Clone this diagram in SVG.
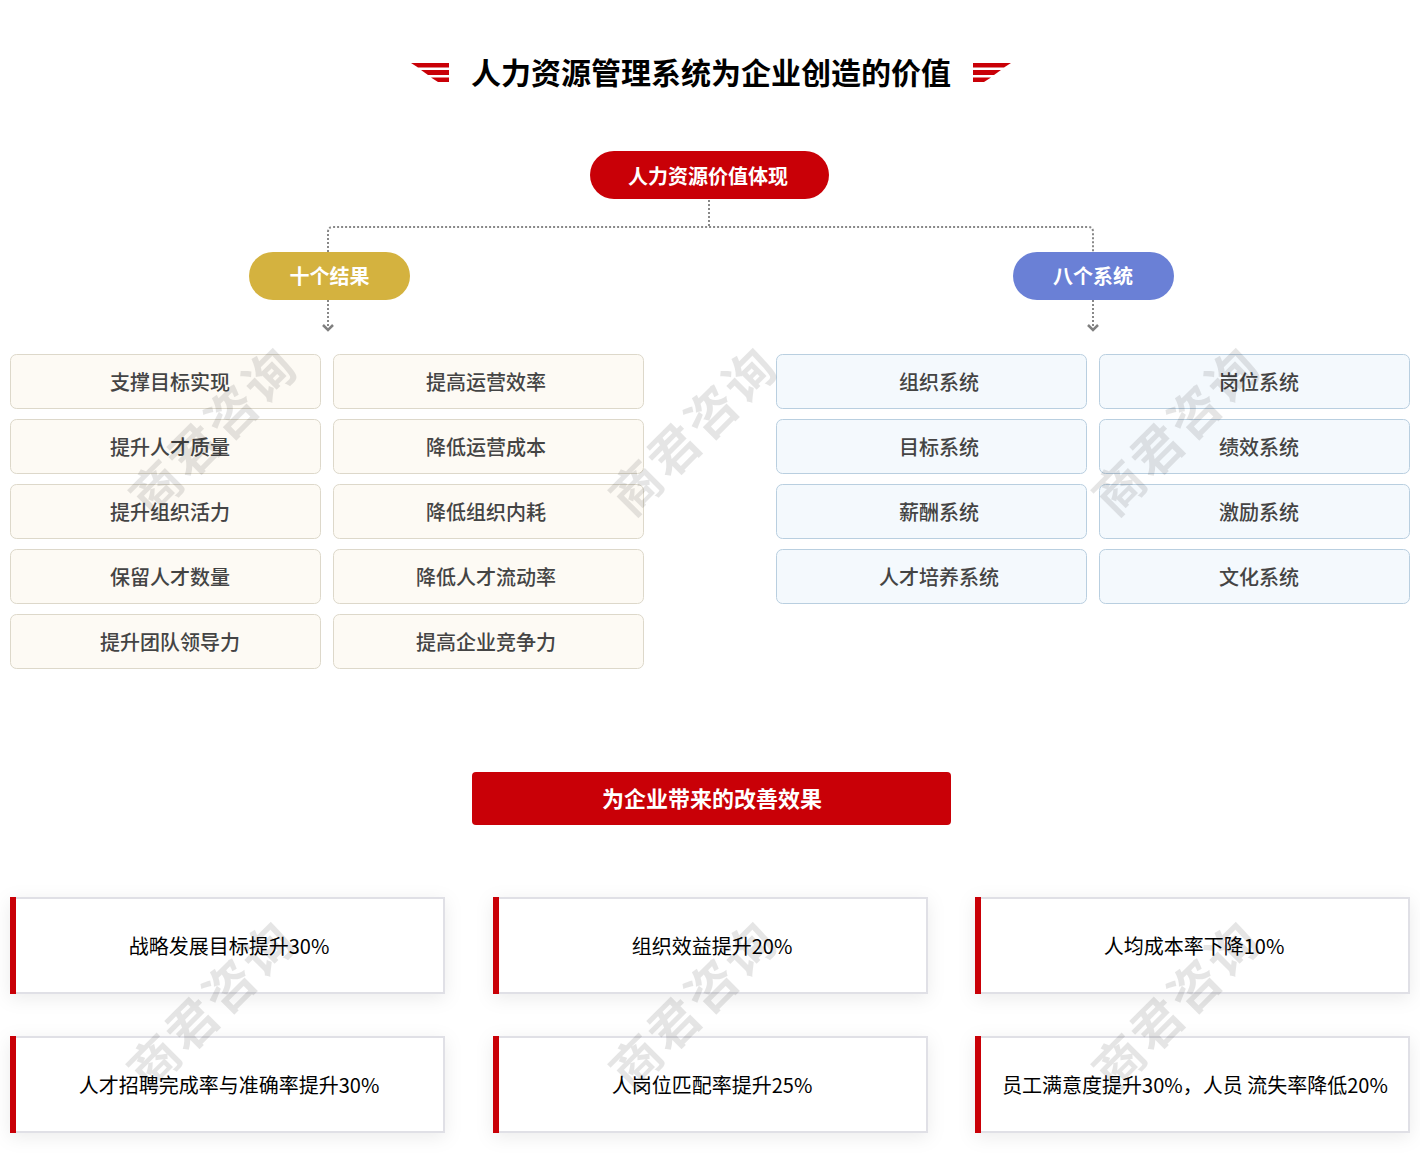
<svg xmlns="http://www.w3.org/2000/svg" width="1420" height="1176" viewBox="0 0 1420 1176">
<defs>
<filter id="sh" x="-10%" y="-30%" width="120%" height="160%"><feDropShadow dx="0" dy="4" stdDeviation="9" flood-color="#000" flood-opacity="0.08"/></filter>
</defs>
<style>
text{font-family:"Noto Sans CJK SC","Noto Sans",sans-serif;text-anchor:middle}
.title{font-size:30px;font-weight:700;fill:#000}
.pill{font-size:20px;font-weight:700;fill:#fff}
.y rect{fill:#fdfaf4;stroke:#ddd8ca;stroke-width:1}
.b rect{fill:#f4f9fd;stroke:#b9cfe0;stroke-width:1}
.y text,.b text{font-size:20px;font-weight:500;fill:#444}
.card .bg{fill:#fff;stroke:#e0e0e6;stroke-width:2;filter:url(#sh)}
.card .bar{fill:#c90007}
.card text{font-size:20px;fill:#000}
.conn{fill:none;stroke:#888;stroke-width:2;stroke-dasharray:2 2}
.chev{fill:none;stroke:#808080;stroke-width:2.500}
.wm{font-size:50px;font-weight:700;fill:#000;fill-opacity:.1;letter-spacing:3px}
.ic{fill:#c90007}
</style>
<g id="title">
<polygon class="ic" points="411,63 449,63 449,67.500 418,67.500"/>
<polygon class="ic" points="421,70 449,70 449,75 428,75"/>
<polygon class="ic" points="431,77.500 449,77.500 449,82 438,82"/>
<text class="title" x="711" y="84">人力资源管理系统为企业创造的价值</text>
<polygon class="ic" points="973,63 1011,63 1004,67.500 973,67.500"/>
<polygon class="ic" points="973,70 1001,70 994,75 973,75"/>
<polygon class="ic" points="973,77.500 991,77.500 984,82 973,82"/>
</g>
<g id="connectors">
<path class="conn" d="M709 200V227M328 252V232Q328 227 333 227H1088Q1093 227 1093 232V252M328 300V326M1093 300V326"/>
<path class="chev" d="M323 325L328 330L333 325M1088 325L1093 330L1098 325"/>
</g>
<g id="root"><rect x="590" y="151" width="239" height="48" rx="24" fill="#c90007"/><text class="pill" x="708" y="184">人力资源价值体现</text></g>
<g id="results"><rect x="249" y="252" width="161" height="48" rx="24" fill="#d4b23f"/><text class="pill" x="329.500" y="284">十个结果</text></g>
<g id="systems"><rect x="1013" y="252" width="161" height="48" rx="24" fill="#6a80d6"/><text class="pill" x="1093" y="284">八个系统</text></g>
<g id="y1" class="y"><rect x="10.500" y="354.500" width="310" height="54" rx="6"/><text x="170" y="390">支撑目标实现</text></g>
<g id="y2" class="y"><rect x="333.500" y="354.500" width="310" height="54" rx="6"/><text x="486" y="390">提高运营效率</text></g>
<g id="y3" class="y"><rect x="10.500" y="419.500" width="310" height="54" rx="6"/><text x="170" y="455">提升人才质量</text></g>
<g id="y4" class="y"><rect x="333.500" y="419.500" width="310" height="54" rx="6"/><text x="486" y="455">降低运营成本</text></g>
<g id="y5" class="y"><rect x="10.500" y="484.500" width="310" height="54" rx="6"/><text x="170" y="520">提升组织活力</text></g>
<g id="y6" class="y"><rect x="333.500" y="484.500" width="310" height="54" rx="6"/><text x="486" y="520">降低组织内耗</text></g>
<g id="y7" class="y"><rect x="10.500" y="549.500" width="310" height="54" rx="6"/><text x="170" y="585">保留人才数量</text></g>
<g id="y8" class="y"><rect x="333.500" y="549.500" width="310" height="54" rx="6"/><text x="486" y="585">降低人才流动率</text></g>
<g id="y9" class="y"><rect x="10.500" y="614.500" width="310" height="54" rx="6"/><text x="170" y="650">提升团队领导力</text></g>
<g id="y10" class="y"><rect x="333.500" y="614.500" width="310" height="54" rx="6"/><text x="486" y="650">提高企业竞争力</text></g>
<g id="b1" class="b"><rect x="776.500" y="354.500" width="310" height="54" rx="6"/><text x="939" y="390">组织系统</text></g>
<g id="b2" class="b"><rect x="1099.500" y="354.500" width="310" height="54" rx="6"/><text x="1259" y="390">岗位系统</text></g>
<g id="b3" class="b"><rect x="776.500" y="419.500" width="310" height="54" rx="6"/><text x="939" y="455">目标系统</text></g>
<g id="b4" class="b"><rect x="1099.500" y="419.500" width="310" height="54" rx="6"/><text x="1259" y="455">绩效系统</text></g>
<g id="b5" class="b"><rect x="776.500" y="484.500" width="310" height="54" rx="6"/><text x="939" y="520">薪酬系统</text></g>
<g id="b6" class="b"><rect x="1099.500" y="484.500" width="310" height="54" rx="6"/><text x="1259" y="520">激励系统</text></g>
<g id="b7" class="b"><rect x="776.500" y="549.500" width="310" height="54" rx="6"/><text x="939" y="585">人才培养系统</text></g>
<g id="b8" class="b"><rect x="1099.500" y="549.500" width="310" height="54" rx="6"/><text x="1259" y="585">文化系统</text></g>
<g id="effect"><rect x="472" y="772" width="479" height="53" rx="4" fill="#c90007"/><text x="712" y="807" font-size="22" font-weight="700" fill="#fff">为企业带来的改善效果</text></g>
<g id="c1" class="card"><rect class="bg" x="11" y="898" width="433" height="95"/><rect class="bar" x="10" y="897" width="6" height="97"/><text x="229" y="954">战略发展目标提升30%</text></g>
<g id="c2" class="card"><rect class="bg" x="494" y="898" width="433" height="95"/><rect class="bar" x="493" y="897" width="6" height="97"/><text x="712" y="954">组织效益提升20%</text></g>
<g id="c3" class="card"><rect class="bg" x="976" y="898" width="433" height="95"/><rect class="bar" x="975" y="897" width="6" height="97"/><text x="1194" y="954">人均成本率下降10%</text></g>
<g id="c4" class="card"><rect class="bg" x="11" y="1037" width="433" height="95"/><rect class="bar" x="10" y="1036" width="6" height="97"/><text x="229" y="1093">人才招聘完成率与准确率提升30%</text></g>
<g id="c5" class="card"><rect class="bg" x="494" y="1037" width="433" height="95"/><rect class="bar" x="493" y="1036" width="6" height="97"/><text x="712" y="1093">人岗位匹配率提升25%</text></g>
<g id="c6" class="card"><rect class="bg" x="976" y="1037" width="433" height="95"/><rect class="bar" x="975" y="1036" width="6" height="97"/><text x="1195" y="1093">员工满意度提升30%，人员 流失率降低20%</text></g>
<g id="watermarks">
<text class="wm" transform="translate(214 431) rotate(-45)" y="18">商君咨询</text>
<text class="wm" transform="translate(694 431) rotate(-45)" y="18">商君咨询</text>
<text class="wm" transform="translate(1177 431) rotate(-45)" y="18">商君咨询</text>
<text class="wm" transform="translate(212 1005) rotate(-45)" y="18">商君咨询</text>
<text class="wm" transform="translate(694 1005) rotate(-45)" y="18">商君咨询</text>
<text class="wm" transform="translate(1177 1005) rotate(-45)" y="18">商君咨询</text>
</g>
</svg>
